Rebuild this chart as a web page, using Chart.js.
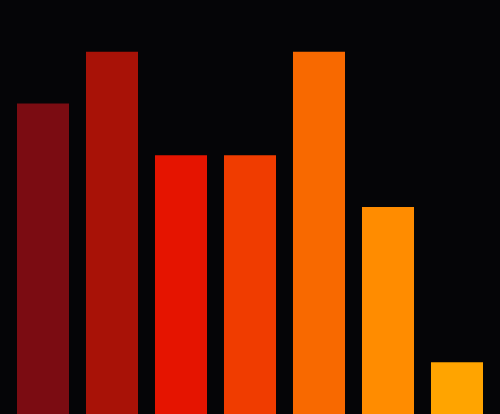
<!DOCTYPE html>
<html>
<head>
<meta charset="utf-8">
<script src="https://cdn.jsdelivr.net/npm/chart.js@4"></script>
<style>
  html, body { margin: 0; padding: 0; background: #050507; }
  #wrap { width: 500px; height: 414px; }
</style>
</head>
<body>
<div id="wrap"><canvas id="bar-chart"></canvas></div>
<script>
var labels = ["A", "B", "C", "D", "E", "F", "G"];
var values = [6, 7, 5, 5, 7, 4, 1];
var colors = ["#7b0c12", "#a81207", "#e51400", "#f03c00", "#f86900", "#ff8c00", "#ffa400"];

new Chart(document.getElementById("bar-chart"), {
    type: 'bar',
    data: {
        labels: labels,
        datasets: [
            {
                label: "",
                backgroundColor: colors,
                borderWidth: 0,
                data: values
            }
        ]
    },
    options: {
        maintainAspectRatio: false,
        responsive: true,
        animation: false,
        layout: {padding: {left: 8.5, right: 8.5, top: 0, bottom: 0}},
        datasets: {bar: {barPercentage: 1, categoryPercentage: 0.754}},
        scales: {
            x: {display: false},
            y: {display: false, min: 0, max: 8}
        },
        plugins: {
            legend: {display: false},
            tooltip: {enabled: false}
        }
    }
});
</script>
</body>
</html>
